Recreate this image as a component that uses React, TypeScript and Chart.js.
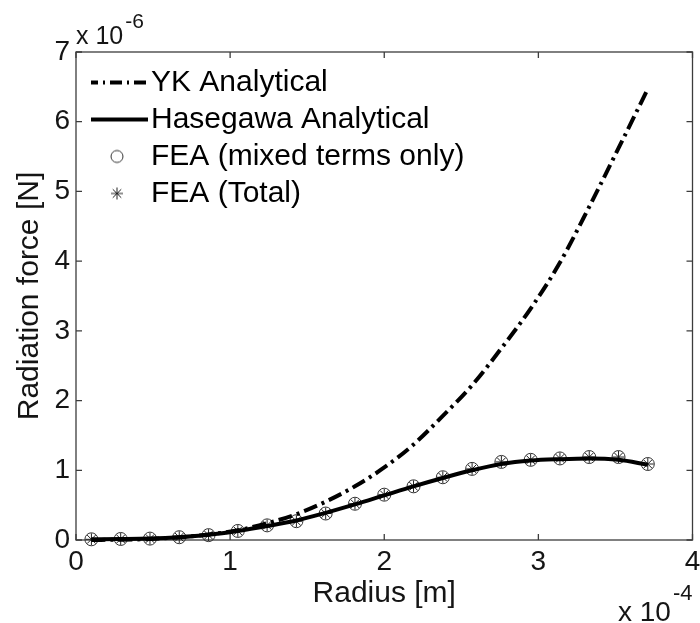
import React, { useEffect, useRef } from 'react';
import { Chart, registerables } from 'chart.js';

Chart.register(...registerables);

// Radius in units of 1e-4 m
const radius = [0.10, 0.29, 0.48, 0.67, 0.86, 1.05, 1.24, 1.43, 1.62, 1.81, 2.00, 2.19, 2.38, 2.57, 2.76, 2.95, 3.14, 3.33, 3.52, 3.71];
// Radiation force in units of 1e-6 N
const ykAnalytical = [0.001, 0.004, 0.015, 0.04, 0.08, 0.14, 0.24, 0.37, 0.55, 0.77, 1.04, 1.37, 1.78, 2.22, 2.75, 3.32, 3.98, 4.78, 5.62, 6.47];
const hasegawaAnalytical = [0.01, 0.013, 0.02, 0.04, 0.075, 0.13, 0.2, 0.28, 0.39, 0.51, 0.64, 0.77, 0.89, 1.0, 1.09, 1.14, 1.16, 1.17, 1.15, 1.08];
const feaMixed = [0.01, 0.015, 0.02, 0.04, 0.07, 0.13, 0.21, 0.27, 0.38, 0.52, 0.65, 0.77, 0.9, 1.02, 1.12, 1.15, 1.17, 1.19, 1.19, 1.09];
const feaTotal = [0.01, 0.015, 0.02, 0.04, 0.07, 0.13, 0.21, 0.27, 0.38, 0.52, 0.65, 0.77, 0.9, 1.02, 1.12, 1.15, 1.17, 1.19, 1.19, 1.09];

const seriesLabels = ['YK Analytical', 'Hasegawa Analytical', 'FEA (mixed terms only)', 'FEA (Total)'];
const xTickValues = [0, 1, 2, 3, 4];
const yTickValues = [0, 1, 2, 3, 4, 5, 6, 7];
const xTitle = 'Radius [m]';
const yTitle = 'Radiation force [N]';
const xExponent = '-4';
const yExponent = '-6';
const exponentBase = 'x 10';

const FONT = '"Liberation Sans", Arial, Helvetica, sans-serif';
const TEXT = '#151515';

const toXY = (xs: number[], ys: number[]) => xs.map((x, i) => ({ x, y: ys[i] }));

function lineIcon(dash: number[]) {
  const c = document.createElement('canvas');
  c.width = 62;
  c.height = 8;
  const g = c.getContext('2d')!;
  g.strokeStyle = '#000';
  g.lineWidth = 4;
  g.setLineDash(dash);
  g.beginPath();
  g.moveTo(0, 4);
  g.lineTo(62, 4);
  g.stroke();
  return c;
}

function circleIcon() {
  const c = document.createElement('canvas');
  c.width = 16;
  c.height = 16;
  const g = c.getContext('2d')!;
  g.strokeStyle = '#333';
  g.lineWidth = 1;
  g.beginPath();
  g.arc(8, 8, 6, 0, Math.PI * 2);
  g.stroke();
  return c;
}

function starIcon() {
  const c = document.createElement('canvas');
  c.width = 16;
  c.height = 16;
  const g = c.getContext('2d')!;
  g.strokeStyle = '#222';
  g.lineWidth = 1;
  const r = 6;
  const d = r * Math.SQRT1_2;
  g.beginPath();
  g.moveTo(8 - r, 8); g.lineTo(8 + r, 8);
  g.moveTo(8, 8 - r); g.lineTo(8, 8 + r);
  g.moveTo(8 - d, 8 - d); g.lineTo(8 + d, 8 + d);
  g.moveTo(8 - d, 8 + d); g.lineTo(8 + d, 8 - d);
  g.stroke();
  return c;
}

const boxPlugin = {
  id: 'matlabBox',
  beforeDatasetsDraw(chart: any) {
    const { ctx, chartArea: a, scales } = chart;
    ctx.save();
    ctx.strokeStyle = '#3c3c3c';
    ctx.lineWidth = 1.3;
    ctx.strokeRect(a.left, a.top, a.right - a.left, a.bottom - a.top);
    const tl = 6;
    ctx.beginPath();
    xTickValues.forEach((v) => {
      const px = scales.x.getPixelForValue(v);
      ctx.moveTo(px, a.bottom); ctx.lineTo(px, a.bottom - tl);
      ctx.moveTo(px, a.top); ctx.lineTo(px, a.top + tl);
    });
    yTickValues.forEach((v) => {
      const py = scales.y.getPixelForValue(v);
      ctx.moveTo(a.left, py); ctx.lineTo(a.left + tl, py);
      ctx.moveTo(a.right, py); ctx.lineTo(a.right - tl, py);
    });
    ctx.stroke();
    ctx.restore();
  },
};

const exponentPlugin = {
  id: 'exponentLabels',
  afterDraw(chart: any) {
    const { ctx, chartArea: a } = chart;
    ctx.save();
    ctx.fillStyle = TEXT;
    ctx.textAlign = 'left';
    ctx.textBaseline = 'alphabetic';
    // y-axis multiplier
    ctx.font = `25px ${FONT}`;
    ctx.fillText(exponentBase, a.left, a.top - 8.5);
    const w1 = ctx.measureText(exponentBase).width;
    ctx.font = `21px ${FONT}`;
    ctx.fillText(yExponent, a.left + w1 + 2, a.top - 24);
    // x-axis multiplier
    ctx.font = `22px ${FONT}`;
    const supW = ctx.measureText(xExponent).width;
    const supX = a.right - supW;
    ctx.fillText(xExponent, supX, chart.height - 23);
    ctx.font = `28px ${FONT}`;
    const w2 = ctx.measureText(exponentBase).width;
    ctx.fillText(exponentBase, supX - 2 - w2, chart.height - 2);
    ctx.restore();
  },
};

const legendPlacePlugin = {
  id: 'legendPlace',
  afterLayout(chart: any) {
    const lg = chart.legend;
    const a = chart.chartArea;
    if (!lg) return;
    lg.left = a.left + 15;
    lg.top = a.top + 8.5;
    lg.right = a.right;
    lg.bottom = a.bottom;
    lg.width = lg.right - lg.left;
    lg.height = lg.bottom - lg.top;
  },
};

export default function App() {
  const ref = useRef<HTMLCanvasElement>(null);

  useEffect(() => {
    const canvas = ref.current;
    if (!canvas) return;
    const icons = [lineIcon([12, 5, 2, 5]), lineIcon([]), circleIcon(), starIcon()];

    const chart = new Chart(canvas, {
      type: 'scatter',
      data: {
        datasets: [
          {
            label: seriesLabels[0],
            data: toXY(radius, ykAnalytical),
            showLine: true,
            borderColor: '#000',
            backgroundColor: '#000',
            borderWidth: 4,
            borderDash: [14, 5, 3, 5],
            pointRadius: 0,
            cubicInterpolationMode: 'monotone',
            clip: false,
          },
          {
            label: seriesLabels[1],
            data: toXY(radius, hasegawaAnalytical),
            showLine: true,
            borderColor: '#000',
            backgroundColor: '#000',
            borderWidth: 4,
            pointRadius: 0,
            cubicInterpolationMode: 'monotone',
            clip: false,
          },
          {
            label: seriesLabels[2],
            data: toXY(radius, feaMixed),
            showLine: false,
            pointStyle: 'circle',
            pointRadius: 6.5,
            pointBorderWidth: 1,
            pointBorderColor: '#333',
            pointBackgroundColor: 'rgba(0,0,0,0)',
            borderColor: '#333',
            backgroundColor: 'rgba(0,0,0,0)',
            clip: false,
          },
          {
            label: seriesLabels[3],
            data: toXY(radius, feaTotal),
            showLine: false,
            pointStyle: 'star',
            pointRadius: 6,
            pointBorderWidth: 1,
            pointBorderColor: '#222',
            borderColor: '#222',
            backgroundColor: 'rgba(0,0,0,0)',
            clip: false,
          },
        ] as any,
      },
      options: {
        animation: false,
        responsive: true,
        maintainAspectRatio: false,
        events: [],
        layout: { padding: { left: 0, top: 52, right: 5, bottom: 0 } },
        scales: {
          x: {
            type: 'linear',
            min: 0,
            max: 4,
            grid: { display: false, drawTicks: false },
            border: { display: false },
            ticks: {
              stepSize: 1,
              autoSkip: false,
              maxRotation: 0,
              padding: 5,
              color: TEXT,
              font: { size: 28, family: FONT },
              callback: (v: any) => String(v),
            },
            title: {
              display: true,
              text: xTitle,
              color: TEXT,
              font: { size: 30, family: FONT },
              padding: { top: 0, bottom: 11.5 },
            },
            afterFit: (s: any) => {
              s.height = 83;
              s.paddingLeft = 0;
              s.paddingRight = 0;
            },
          },
          y: {
            type: 'linear',
            min: 0,
            max: 7,
            grid: { display: false, drawTicks: false },
            border: { display: false },
            ticks: {
              stepSize: 1,
              autoSkip: false,
              padding: 6,
              color: TEXT,
              font: { size: 28, family: FONT },
              callback: (v: any) => String(v),
            },
            title: {
              display: true,
              text: yTitle,
              color: TEXT,
              font: { size: 30, family: FONT },
              padding: { top: 12, bottom: 0 },
            },
            afterFit: (s: any) => {
              s.width = 76;
              s.paddingTop = 0;
              s.paddingBottom = 0;
            },
          },
        },
        plugins: {
          tooltip: { enabled: false },
          legend: {
            display: true,
            position: 'chartArea',
            align: 'start',
            labels: {
              usePointStyle: true,
              pointStyleWidth: 38,
              padding: 7,
              color: TEXT,
              font: { size: 30, family: FONT },
              generateLabels: (c: any) =>
                c.data.datasets.map((ds: any, i: number) => ({
                  text: ds.label,
                  pointStyle: icons[i],
                  fillStyle: 'rgba(0,0,0,0)',
                  strokeStyle: '#000',
                  lineWidth: 1,
                  hidden: false,
                  datasetIndex: i,
                })),
            },
          },
        },
      } as any,
      plugins: [boxPlugin, exponentPlugin, legendPlacePlugin],
    });

    return () => chart.destroy();
  }, []);

  return (
    <div style={{ position: 'fixed', left: 0, top: 0, width: 700, height: 623, background: '#fff' }}>
      <canvas ref={ref} />
    </div>
  );
}
